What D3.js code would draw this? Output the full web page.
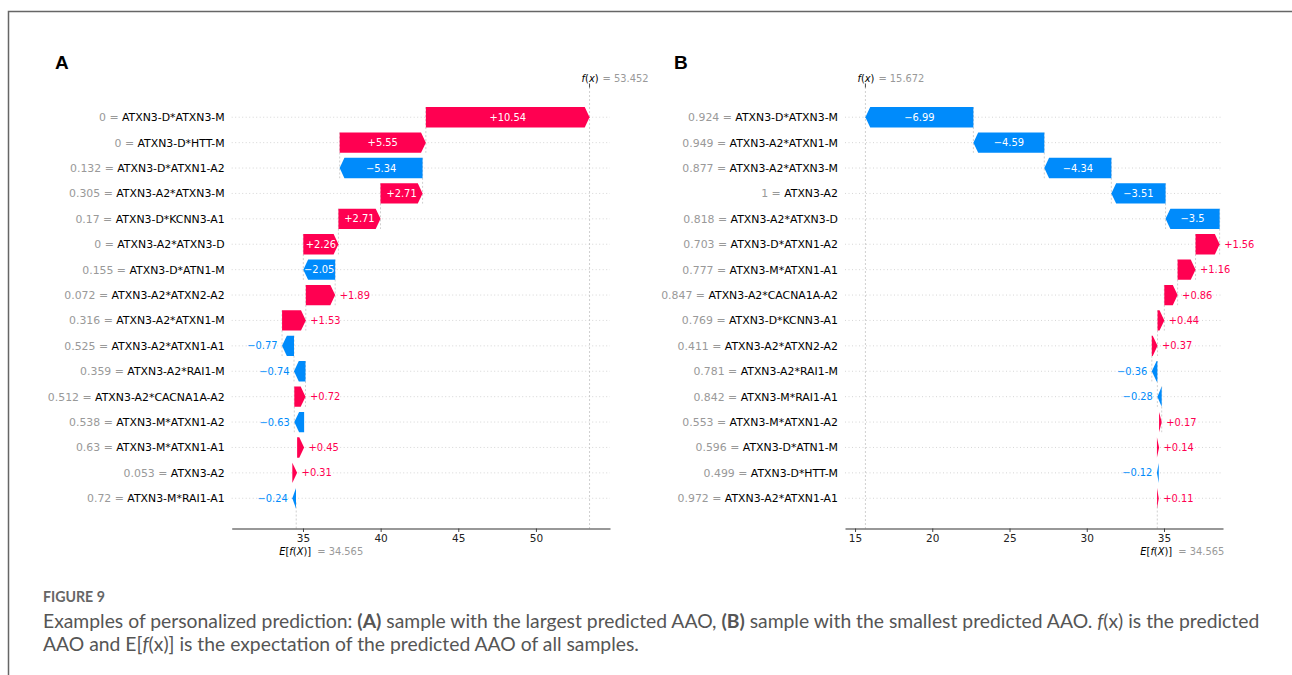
<!DOCTYPE html>
<html><head><meta charset="utf-8">
<script src="https://cdn.jsdelivr.net/npm/d3@7"></script>
<style>body{margin:0;background:#fff} svg{display:block}</style>
</head><body><svg id="c" width="1292" height="675"></svg>
<script>
// ---------- data ----------
const baseValue = 34.565;

const featNamesA = ["ATXN3-D*ATXN3-M","ATXN3-D*HTT-M","ATXN3-D*ATXN1-A2","ATXN3-A2*ATXN3-M","ATXN3-D*KCNN3-A1","ATXN3-A2*ATXN3-D","ATXN3-D*ATN1-M","ATXN3-A2*ATXN2-A2","ATXN3-A2*ATXN1-M","ATXN3-A2*ATXN1-A1","ATXN3-A2*RAI1-M","ATXN3-A2*CACNA1A-A2","ATXN3-M*ATXN1-A2","ATXN3-M*ATXN1-A1","ATXN3-A2","ATXN3-M*RAI1-A1"];
const featValuesA = ["0","0","0.132","0.305","0.17","0","0.155","0.072","0.316","0.525","0.359","0.512","0.538","0.63","0.053","0.72"];
const shapA = [10.54,5.55,-5.34,2.71,2.71,2.26,-2.05,1.89,1.53,-0.77,-0.74,0.72,-0.63,0.45,0.31,-0.24];
const fxA = 53.452;
const ticksA = [35,40,45,50];

const featNamesB = ["ATXN3-D*ATXN3-M","ATXN3-A2*ATXN1-M","ATXN3-A2*ATXN3-M","ATXN3-A2","ATXN3-A2*ATXN3-D","ATXN3-D*ATXN1-A2","ATXN3-M*ATXN1-A1","ATXN3-A2*CACNA1A-A2","ATXN3-D*KCNN3-A1","ATXN3-A2*ATXN2-A2","ATXN3-A2*RAI1-M","ATXN3-M*RAI1-A1","ATXN3-M*ATXN1-A2","ATXN3-D*ATN1-M","ATXN3-D*HTT-M","ATXN3-A2*ATXN1-A1"];
const featValuesB = ["0.924","0.949","0.877","1","0.818","0.703","0.777","0.847","0.769","0.411","0.781","0.842","0.553","0.596","0.499","0.972"];
const shapB = [-6.99,-4.59,-4.34,-3.51,-3.5,1.56,1.16,0.86,0.44,0.37,-0.36,-0.28,0.17,0.14,-0.12,0.11];
const fxB = 15.672;
const ticksB = [15,20,25,30,35];

// ---------- drawing ----------
const svg = d3.select("#c");
const RED = "#ff0051", BLUE = "#008bfb";
const FONT = "DejaVu Sans, sans-serif";

svg.append("path").attr("d","M8.5,675V11.5H1292").attr("fill","none")
  .attr("stroke","#666666").attr("stroke-width",1.5);

function fmtSigned(v){
  let s = Math.abs(v).toFixed(2).replace(/0+$/,"").replace(/\.$/,"");
  return (v >= 0 ? "+" : "\u2212") + s;
}
function fmt3(v){ return v.toFixed(3).replace(/0+$/,"").replace(/\.$/,""); }

function panel(o){
  const g = svg.append("g");
  const n = o.values.length;
  const x = d3.scaleLinear().domain(o.domain).range(o.xr);
  const y = d3.scaleLinear().domain([-1.19, n + 0.19]).range([528.5, 87]);
  const rowY = i => y(n - 1 - i);
  const halfH = (y(0) - y(0.8)) / 2;

  // row grid lines
  g.selectAll(".grid").data(o.values).enter().append("line")
    .attr("x1", o.xr[0]).attr("x2", o.xr[1])
    .attr("y1", (d,i)=>rowY(i)).attr("y2", (d,i)=>rowY(i))
    .attr("stroke","#cccccc").attr("stroke-width",0.8).attr("stroke-dasharray","1,2.5");

  // f(x) and E[f(X)] reference lines
  g.append("line").attr("x1",x(o.fx)).attr("x2",x(o.fx)).attr("y1",87).attr("y2",528.5)
    .attr("stroke","#bbbbbb").attr("stroke-width",0.7).attr("stroke-dasharray","2,2");
  g.append("line").attr("x1",x(baseValue)).attr("x2",x(baseValue))
    .attr("y1",528.5).attr("y2",y(-1.19 + (n + 1.38)/n))
    .attr("stroke","#bbbbbb").attr("stroke-width",0.7).attr("stroke-dasharray","2,2");

  // cumulative positions (from f(x) downwards, as in SHAP waterfall)
  let loc = o.fx;
  const bars = o.values.map((v,i)=>{ loc -= v; return {i, v, start: loc, end: loc + v}; });

  // connector lines
  bars.forEach((b,i)=>{
    if (i + 4 < n) {
      g.append("line").attr("x1",x(b.start)).attr("x2",x(b.start))
        .attr("y1", y(n-1-i + 0.4)).attr("y2", y(n-1-i - 1 - 0.4))
        .attr("stroke","#bbbbbb").attr("stroke-width",0.7).attr("stroke-dasharray","2,2");
    }
  });

  const HL = 4.8;
  bars.forEach(b=>{
    const yc = rowY(b.i);
    const xs = x(b.start), xe = x(b.end);
    const w = Math.abs(xe - xs);
    const hl = Math.min(w, HL);
    let d;
    if (b.v >= 0) {
      d = `M${xs},${yc-halfH}L${xe-hl},${yc-halfH}L${xe},${yc}L${xe-hl},${yc+halfH}L${xs},${yc+halfH}Z`;
    } else {
      d = `M${xs},${yc-halfH}L${xe+hl},${yc-halfH}L${xe},${yc}L${xe+hl},${yc+halfH}L${xs},${yc+halfH}Z`;
    }
    g.append("path").attr("d", d).attr("fill", b.v >= 0 ? RED : BLUE);
    const label = fmtSigned(b.v);
    const t = g.append("text").attr("x",(xs+xe)/2).attr("y",yc).attr("dy","0.36em")
      .attr("text-anchor","middle").attr("font-family",FONT).attr("font-size",9.9)
      .attr("fill","#fff").text(label);
    const tw = t.node().getComputedTextLength();
    if (tw > w) {
      if (b.v >= 0) t.attr("x", xe + 4.5).attr("text-anchor","start").attr("fill",RED);
      else t.attr("x", xe - 4.5).attr("text-anchor","end").attr("fill",BLUE);
    }
  });

  // y labels
  o.names.forEach((nm,i)=>{
    const t = g.append("text").attr("x",o.xr[0]-7).attr("y",rowY(i)).attr("dy","0.36em")
      .attr("text-anchor","end").attr("font-family",FONT).attr("font-size",10.9);
    t.append("tspan").attr("fill","#999999").text(o.fvals[i] + " = ");
    t.append("tspan").attr("fill","#000000").text(nm);
  });

  // x axis
  const ax = g.append("g").attr("transform","translate(0,528.5)")
    .call(d3.axisBottom(x).tickValues(o.ticks).tickSize(3.5).tickSizeOuter(0).tickPadding(3));
  ax.select(".domain").attr("stroke","#333").attr("stroke-width",1.1);
  ax.selectAll(".tick line").attr("stroke","#333").attr("stroke-width",0.9);
  ax.selectAll(".tick text").attr("font-family",FONT).attr("font-size",10.5).attr("fill","#222");

  // top tick for f(x)
  g.append("line").attr("x1",x(o.fx)).attr("x2",x(o.fx)).attr("y1",83.5).attr("y2",87.5)
    .attr("stroke","#333").attr("stroke-width",0.9);

  // f(x) label
  const fxT = g.append("text").attr("x",x(o.fx)-8).attr("y",81.5)
    .attr("font-family",FONT).attr("font-size",9.9).attr("fill","#000");
  fxT.append("tspan").attr("font-style","italic").text("f");
  fxT.append("tspan").text("(");
  fxT.append("tspan").attr("font-style","italic").text("x");
  fxT.append("tspan").text(")");
  g.append("text").attr("x",x(o.fx)+13).attr("y",81.5).attr("font-family",FONT)
    .attr("font-size",9.9).attr("fill","#999999").text("= " + fmt3(o.fx));

  // E[f(X)] label
  const eT = g.append("text").attr("x",x(baseValue)-17).attr("y",555)
    .attr("font-family",FONT).attr("font-size",9.9).attr("fill","#000");
  eT.append("tspan").attr("font-style","italic").text("E");
  eT.append("tspan").text("[");
  eT.append("tspan").attr("font-style","italic").text("f");
  eT.append("tspan").text("(");
  eT.append("tspan").attr("font-style","italic").text("X");
  eT.append("tspan").text(")]");
  g.append("text").attr("x",x(baseValue)+21).attr("y",555).attr("font-family",FONT)
    .attr("font-size",9.9).attr("fill","#999999").text("= " + fmt3(baseValue));

  // panel letter
  g.append("text").attr("x",o.letterX).attr("y",69).attr("font-family","Liberation Sans, Arial, sans-serif")
    .attr("font-weight","bold").attr("font-size",19).attr("fill","#000").text(o.letter);
}

panel({names:featNamesA, fvals:featValuesA, values:shapA, fx:fxA, ticks:ticksA,
       domain:[30.41,54.77], xr:[231.7,610], letter:"A", letterX:55});
panel({names:featNamesB, fvals:featValuesB, values:shapB, fx:fxB, ticks:ticksB,
       domain:[14.35,38.82], xr:[845,1223], letter:"B", letterX:674});

// ---------- caption ----------
const CAPF = "Lato, 'Open Sans', sans-serif";
const fig = svg.append("text").attr("x",43).attr("y",602).attr("font-family",CAPF)
  .attr("font-weight","bold").attr("font-size",13.5).attr("fill","#666").text("FIGURE 9");
const fl = fig.node().getComputedTextLength();
fig.attr("font-size", 13.5 * 62 / fl);

const l1 = svg.append("text").attr("x",43).attr("y",628).attr("font-family",CAPF)
  .attr("font-size",16).attr("fill","#555");
l1.append("tspan").text("Examples of personalized prediction: ");
l1.append("tspan").attr("font-weight","bold").text("(A)");
l1.append("tspan").text(" sample with the largest predicted AAO, ");
l1.append("tspan").attr("font-weight","bold").text("(B)");
l1.append("tspan").text(" sample with the smallest predicted AAO. ");
l1.append("tspan").attr("font-style","italic").text("f");
l1.append("tspan").text("(x) is the predicted");
const L1 = l1.node().getComputedTextLength();
const capSize = 16 * 1217 / L1;
l1.attr("font-size", capSize);

const l2 = svg.append("text").attr("x",43).attr("y",651).attr("font-family",CAPF)
  .attr("font-size",capSize).attr("fill","#555");
l2.append("tspan").text("AAO and E[");
l2.append("tspan").attr("font-style","italic").text("f");
l2.append("tspan").text("(x)] is the expectation of the predicted AAO of all samples.");
</script></body></html>
